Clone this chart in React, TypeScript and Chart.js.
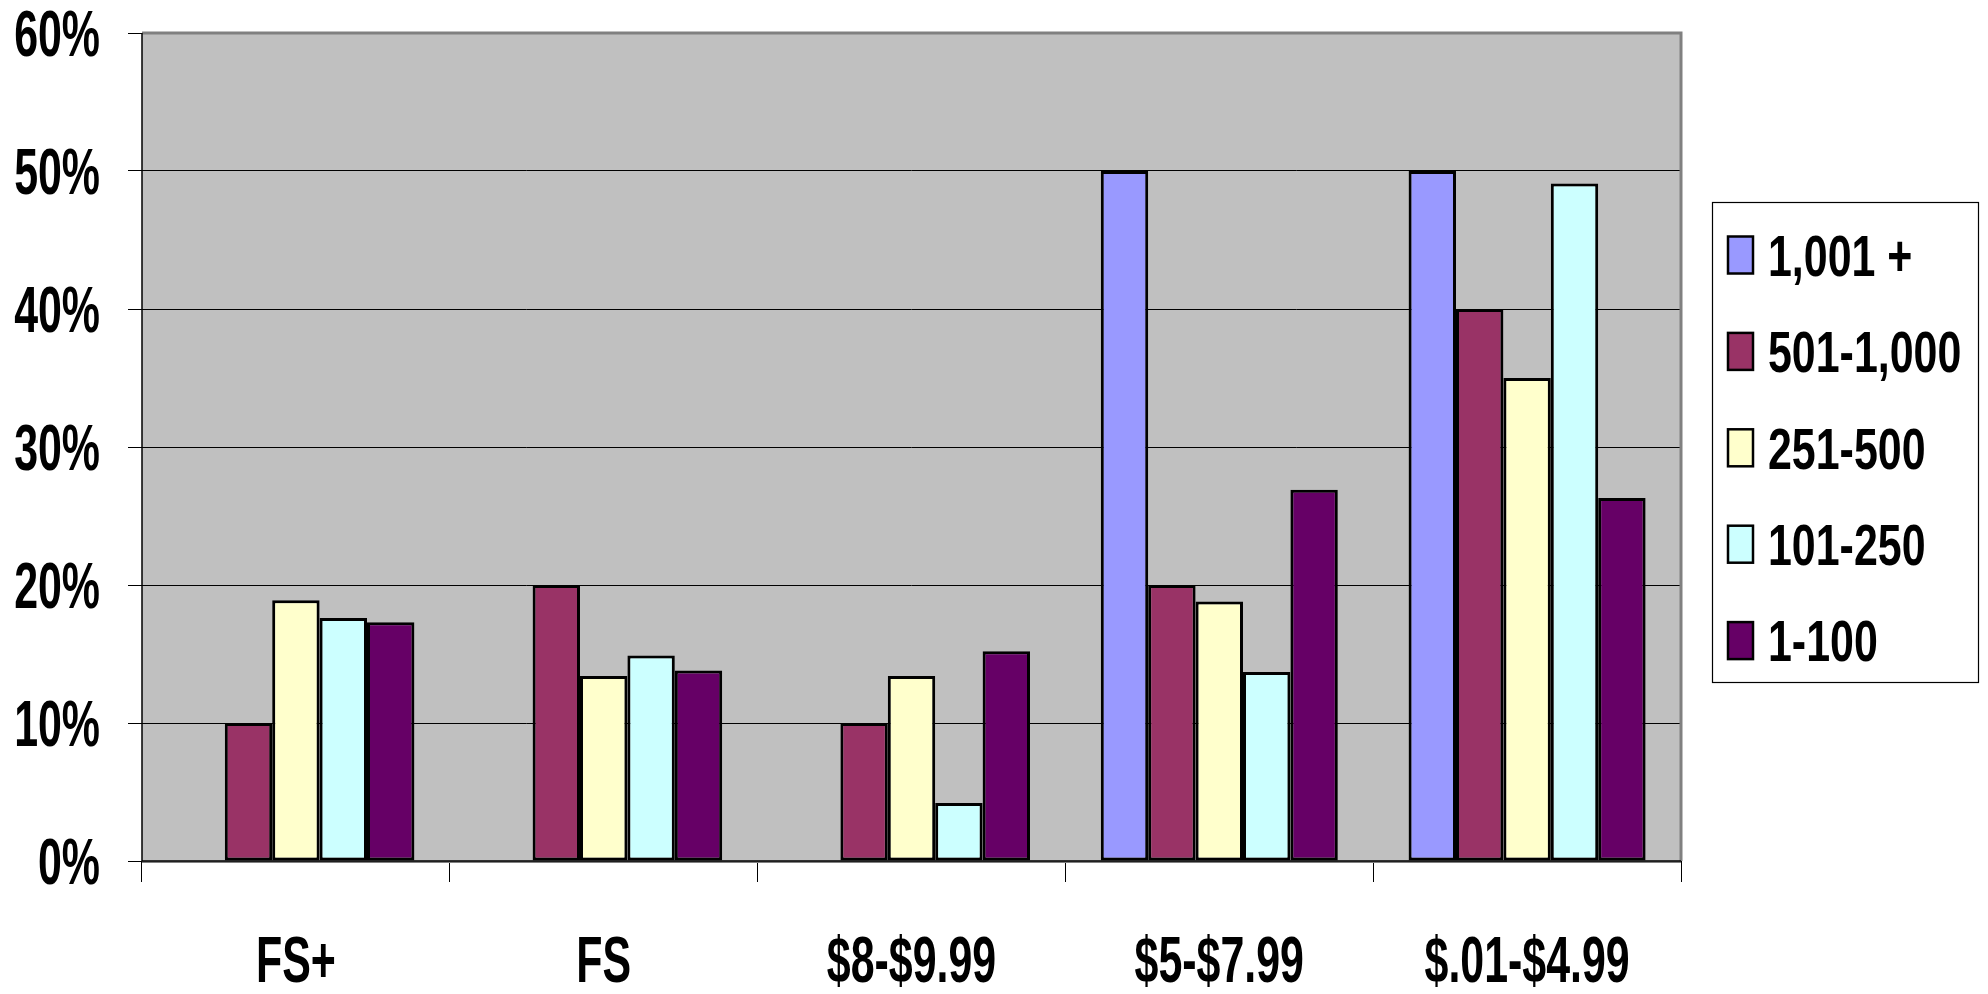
import React, { useEffect, useRef } from "react";
import { Chart, registerables } from "chart.js";

Chart.register(...registerables);

const categories = ["FS+", "FS", "$8-$9.99", "$5-$7.99", "$.01-$4.99"];
const seriesLabels = ["1,001 +", "501-1,000", "251-500", "101-250", "1-100"];
const seriesColors = ["#9999FF", "#993366", "#FFFFCC", "#CCFFFF", "#660066"];
const s1001plus = [0, 0, 0, 50, 50];
const s501to1000 = [10, 20, 10, 20, 40];
const s251to500 = [18.9, 13.4, 13.4, 18.8, 35.0];
const s101to250 = [17.6, 14.9, 4.2, 13.7, 49.1];
const s1to100 = [17.3, 13.8, 15.2, 26.9, 26.3];
const yTicks = [0, 10, 20, 30, 40, 50, 60];
const yTickLabels = ["0%", "10%", "20%", "30%", "40%", "50%", "60%"];

const FONT = "'Liberation Sans', Arial, Helvetica, sans-serif";

const customPlugin = {
  id: "excelLook",
  beforeDraw(chart: any) {
    const { ctx, chartArea: a } = chart;
    ctx.save();
    ctx.fillStyle = "#C0C0C0";
    ctx.fillRect(a.left, a.top, a.right - a.left, a.bottom - a.top);
    ctx.restore();
  },
  afterDatasetsDraw(chart: any) {
    const { ctx, chartArea: a } = chart;
    ctx.save();
    // plot border (gray) top and right
    ctx.strokeStyle = "#808080";
    ctx.lineWidth = 3;
    ctx.beginPath();
    ctx.moveTo(a.left, a.top);
    ctx.lineTo(a.right, a.top);
    ctx.lineTo(a.right, a.bottom);
    ctx.stroke();
    ctx.lineWidth = 2;
    ctx.beginPath();
    ctx.moveTo(a.left, a.bottom + 1);
    ctx.lineTo(a.right, a.bottom + 1);
    ctx.stroke();
    // axis lines black
    ctx.strokeStyle = "#000";
    ctx.lineWidth = 1.5;
    ctx.beginPath();
    ctx.moveTo(a.left, a.top);
    ctx.lineTo(a.left, a.bottom);
    ctx.moveTo(a.left, a.bottom);
    ctx.lineTo(a.right, a.bottom);
    ctx.stroke();
    ctx.restore();
  },
  afterDraw(chart: any) {
    const { ctx } = chart;
    const yScale = chart.scales.y;
    const xScale = chart.scales.x;
    ctx.save();
    ctx.fillStyle = "#000";
    // y tick labels
    ctx.font = `bold 65px ${FONT}`;
    ctx.textAlign = "right";
    ctx.textBaseline = "alphabetic";
    yTicks.forEach((v, i) => {
      const y = yScale.getPixelForValue(v);
      ctx.save();
      ctx.translate(100, y + 23.3);
      ctx.scale(0.66, 1);
      ctx.fillText(yTickLabels[i], 0, 0);
      ctx.restore();
    });
    // x labels
    ctx.textAlign = "center";
    categories.forEach((c, i) => {
      const x = xScale.getPixelForValue(i);
      ctx.save();
      ctx.translate(x, 982);
      ctx.scale(0.66, 1);
      ctx.fillText(c, 0, 0);
      ctx.restore();
    });
    // legend
    const lx = 1712, ly = 202, lw = 266, lh = 480;
    ctx.fillStyle = "#fff";
    ctx.fillRect(lx, ly, lw, lh);
    ctx.strokeStyle = "#000";
    ctx.lineWidth = 1.2;
    ctx.strokeRect(lx + 0.5, ly + 0.5, lw, lh);
    ctx.font = `bold 58px ${FONT}`;
    ctx.textAlign = "left";
    chart.data.datasets.forEach((ds: any, i: number) => {
      const cy = 255 + 96.4 * i;
      ctx.fillStyle = ds.backgroundColor;
      ctx.fillRect(1728, cy - 18.5, 25, 37);
      ctx.strokeStyle = "#000";
      ctx.lineWidth = 2.5;
      ctx.strokeRect(1728, cy - 18.5, 25, 37);
      ctx.fillStyle = "#000";
      ctx.save();
      ctx.translate(1768, cy + 20.8);
      ctx.scale(0.74, 1);
      ctx.fillText(ds.label, 0, 0);
      ctx.restore();
    });
    ctx.restore();
  },
};

export default function App() {
  const ref = useRef<HTMLCanvasElement>(null);
  useEffect(() => {
    if (!ref.current) return;
    const seriesData = [s1001plus, s501to1000, s251to500, s101to250, s1to100];
    const chart = new Chart(ref.current, {
      type: "bar",
      data: {
        labels: categories,
        datasets: seriesLabels.map((label, i) => ({
          label,
          data: seriesData[i],
          backgroundColor: seriesColors[i],
          borderColor: "#000",
          borderWidth: 3,
          borderSkipped: false,
          categoryPercentage: 0.77,
          barPercentage: 1,
        })),
      },
      options: {
        responsive: false,
        animation: false,
        devicePixelRatio: 1,
        layout: { padding: { top: 33, right: 307, left: 0, bottom: 0 } },
        plugins: {
          legend: { display: false },
          tooltip: { enabled: false },
        },
        scales: {
          x: {
            grid: {
              display: true,
              drawOnChartArea: false,
              drawTicks: true,
              tickLength: 21,
              color: "#000",
              lineWidth: 1,
              offset: true,
            },
            border: { display: false },
            ticks: { display: false },
            afterFit: (s: any) => {
              s.height = 133;
            },
          },
          y: {
            min: 0,
            max: 60,
            ticks: { display: false, stepSize: 10 },
            grid: {
              color: "#000",
              lineWidth: 1,
              drawTicks: true,
              tickLength: 14,
            },
            border: { display: false },
            afterFit: (s: any) => {
              s.width = 142;
            },
          },
        },
      },
      plugins: [customPlugin],
    });
    return () => chart.destroy();
  }, []);
  return (
    <div style={{ position: "fixed", left: 0, top: 0, width: 1988, height: 994, background: "#fff" }}>
      <canvas ref={ref} width={1988} height={994} style={{ display: "block" }} />
    </div>
  );
}
